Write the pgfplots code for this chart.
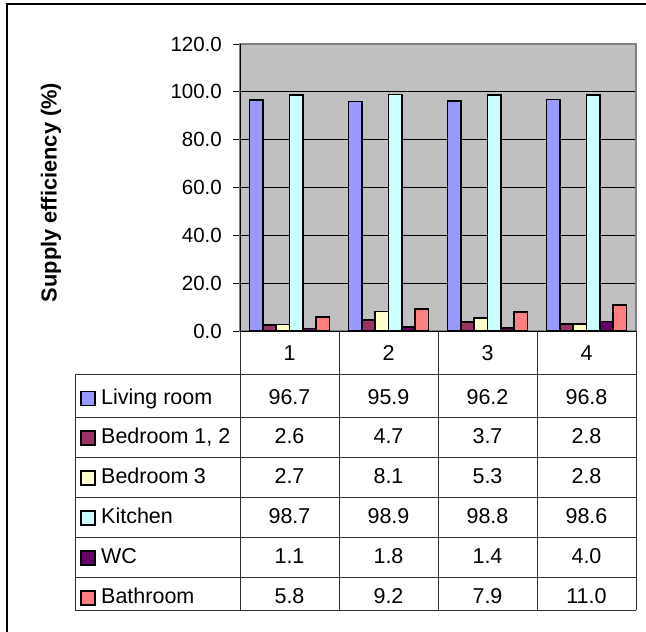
\documentclass[border=0pt]{standalone}
\usepackage{pgfplots}
\pgfplotsset{compat=1.18}
\usepackage{pgfplotstable}
\usepackage{fontspec}
\setmainfont{Liberation Sans}
\definecolor{cLiving}{HTML}{9999FF}
\definecolor{cBedA}{HTML}{993366}
\definecolor{cBedB}{HTML}{FFFFCC}
\definecolor{cKitchen}{HTML}{CCFFFF}
\definecolor{cWC}{HTML}{660066}
\definecolor{cBath}{HTML}{FF8080}
\definecolor{plotgray}{HTML}{C0C0C0}
\definecolor{axisgray}{HTML}{808080}
\definecolor{tablegray}{HTML}{303030}

\pgfplotstableread{
cat living bed12 bed3 kitchen wc bath
1 96.7 2.6 2.7 98.7 1.1 5.8
2 95.9 4.7 8.1 98.9 1.8 9.2
3 96.2 3.7 5.3 98.8 1.4 7.9
4 96.8 2.8 2.8 98.6 4.0 11.0
}\data

\begin{document}
\fontsize{21.5}{25}\selectfont
\begin{tikzpicture}[x=1pt,y=1pt,font=\fontsize{21.5}{25}\selectfont]
\useasboundingbox (0pt,0pt) rectangle (646pt,-632pt);
\begin{axis}[
  at={(240pt,-331pt)}, anchor=south west,
  scale only axis, width=396pt, height=287pt,
  xmin=0.5, xmax=4.5, ymin=0, ymax=120,
  ytick distance=20, xtick=\empty,
  ybar=0pt, bar width=13.3pt,
  axis background/.style={fill=plotgray},
  axis line style={draw=axisgray, line width=1.5pt},
  ymajorgrids, major grid style={black, line width=0.8pt},
  tick align=outside, major tick length=7pt,
  tick style={black, line width=0.8pt},
  ytick pos=left,
  yticklabel style={inner sep=0pt, xshift=-11pt, font=\fontsize{20.5}{24}\selectfont,
    /pgf/number format/.cd, fixed, fixed zerofill, precision=1, assume math mode=true},
  every axis plot/.append style={draw=black, line width=1.7pt},
  clip=false,
]
\addplot[fill=cLiving] table[x=cat,y=living]{\data};
\addplot[fill=cBedA] table[x=cat,y=bed12]{\data};
\addplot[fill=cBedB] table[x=cat,y=bed3]{\data};
\addplot[fill=cKitchen] table[x=cat,y=kitchen]{\data};
\addplot[fill=cWC] table[x=cat,y=wc]{\data};
\addplot[fill=cBath] table[x=cat,y=bath]{\data};
\draw[black, line width=1pt] (rel axis cs:0,1) -- (rel axis cs:0,0) -- (rel axis cs:1,0);
\end{axis}

% y label
\node[rotate=90, font=\fontsize{21.8}{25}\selectfont\bfseries] at (51pt,-192.5pt) {Supply efficiency (\%)};

% data table grid
\begin{scope}[draw=tablegray, line width=1pt]
\draw (240pt,-331pt) -- (240pt,-610pt);
\foreach \xx in {339,438,537,636} \draw (\xx pt,-331pt) -- (\xx pt,-610pt);
\draw (75pt,-374pt) -- (75pt,-610pt);
\foreach \yy in {374,417,457,497,537,577,610} \draw (75pt,-\yy pt) -- (636pt,-\yy pt);
\end{scope}

% header
\foreach \lab [count=\i] in {1,2,3,4}
  \node[anchor=base, inner sep=0pt] at ({(240+99*(\i-0.5))*1pt},-360pt) {\lab};

% rows
\foreach \col/\name/\clr/\base [count=\r] in {living/Living room/cLiving/404, bed12/{Bedroom 1, 2}/cBedA/443.5, bed3/Bedroom\kern-0.5pt\ 3/cBedB/483.5, kitchen/Kitchen/cKitchen/523.5, wc/WC/cWC/563.5, bath/Bathroom/cBath/603.5}{
  \draw[fill=\clr, draw=black, line width=1.3pt] (81pt,{(-\base-1.5)*1pt}) rectangle (95pt,{(-\base+12.5)*1pt});
  \node[anchor=base west, inner sep=0pt] at (101pt,{-\base*1pt}) {\name};
  \foreach \k in {0,1,2,3}{
    \pgfplotstablegetelem{\k}{\col}\of\data
    \node[anchor=base, inner sep=0pt] at ({(240+99*(\k+0.5))*1pt},{-\base*1pt}) {\pgfplotsretval};
  }
}

% outer frame
\draw[black, line width=2.5pt] (7pt,-632pt) -- (7pt,-4pt) -- (646pt,-4pt);
\end{tikzpicture}
\end{document}
